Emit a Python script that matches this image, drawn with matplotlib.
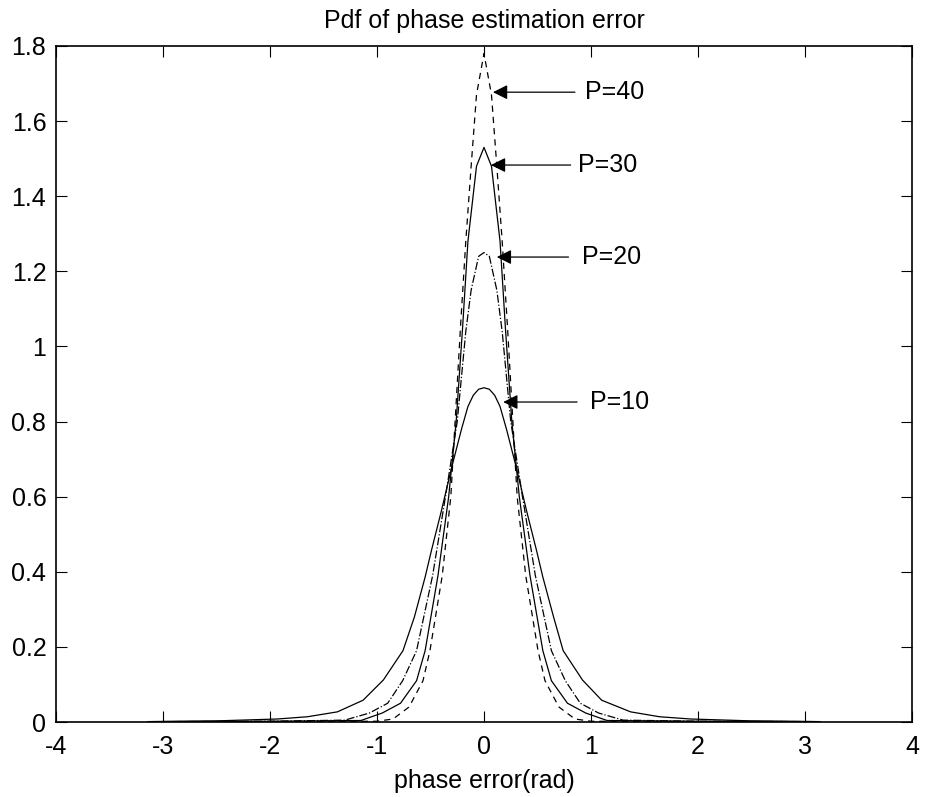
import matplotlib
matplotlib.use("Agg")
import matplotlib.pyplot as plt

plt.rcParams['font.family'] = ['Liberation Sans', 'DejaVu Sans']
plt.rcParams['axes.unicode_minus'] = False

# P=10 curve
x10 = [-3.14, -2.5, -1.93, -1.65, -1.37, -1.13, -0.94, -0.757, -0.65, -0.55, -0.49, -0.4, -0.3, -0.21, -0.15, -0.1, -0.05,
       0.0, 0.05, 0.1, 0.15, 0.21, 0.3, 0.4, 0.49, 0.55, 0.65, 0.74, 0.92, 1.1, 1.37, 1.64, 1.93, 2.5, 3.14]
y10 = [0.001, 0.003, 0.008, 0.014, 0.027, 0.058, 0.112, 0.19, 0.28, 0.386, 0.458, 0.56, 0.68, 0.78, 0.84, 0.87, 0.886,
       0.89, 0.886, 0.87, 0.84, 0.78, 0.68, 0.56, 0.458, 0.386, 0.28, 0.19, 0.112, 0.058, 0.027, 0.014, 0.008, 0.003, 0.001]

# P=20
x20 = [-3.14, -2.0, -1.3, -1.07, -0.9, -0.76, -0.63, -0.48, -0.36, -0.25, -0.17, -0.12, -0.05,
       0.0, 0.05, 0.12, 0.17, 0.25, 0.36, 0.48, 0.63, 0.76, 0.9, 1.07, 1.3, 2.0, 3.14]
y20 = [0.001, 0.002, 0.005, 0.024, 0.05, 0.11, 0.19, 0.39, 0.6, 0.8, 1.04, 1.15, 1.24,
       1.25, 1.24, 1.15, 1.04, 0.8, 0.6, 0.39, 0.19, 0.11, 0.05, 0.024, 0.005, 0.002, 0.001]

# P=30
x30 = [-3.14, -2.0, -1.15, -0.95, -0.78, -0.63, -0.55, -0.43, -0.33, -0.26, -0.2, -0.15, -0.07,
       0.0, 0.07, 0.15, 0.2, 0.26, 0.33, 0.43, 0.55, 0.63, 0.78, 0.95, 1.15, 2.0, 3.14]
y30 = [0.001, 0.002, 0.004, 0.024, 0.05, 0.11, 0.19, 0.39, 0.6, 0.8, 1.05, 1.28, 1.48,
       1.53, 1.48, 1.28, 1.05, 0.8, 0.6, 0.39, 0.19, 0.11, 0.05, 0.024, 0.004, 0.002, 0.001]

# P=40
x40 = [-3.14, -2.0, -1.0, -0.85, -0.7, -0.57, -0.505, -0.39, -0.31, -0.27, -0.22, -0.17, -0.12, -0.07,
       0.0, 0.07, 0.12, 0.17, 0.22, 0.27, 0.31, 0.39, 0.505, 0.57, 0.7, 0.85, 1.0, 2.0, 3.14]
y40 = [0.001, 0.001, 0.002, 0.008, 0.04, 0.11, 0.19, 0.39, 0.6, 0.8, 1.05, 1.28, 1.48, 1.67,
       1.78, 1.67, 1.48, 1.28, 1.05, 0.8, 0.6, 0.39, 0.19, 0.11, 0.04, 0.008, 0.002, 0.001, 0.001]

labels = ["P=10", "P=20", "P=30", "P=40"]
tips = [(0.18, 0.852), (0.12, 1.238), (0.065, 1.483), (0.084, 1.677)]
tails = [(0.87, 0.852), (0.79, 1.238), (0.81, 1.483), (0.85, 1.677)]
text_x = [0.99, 0.92, 0.88, 0.944]

fig = plt.figure(figsize=(9.27, 7.97), dpi=100)
ax = fig.add_axes([0.0604, 0.0941, 0.9234, 0.8482])

ax.plot(x10, y10, color='k', lw=0.9, ls='-')
ax.plot(x20, y20, color='k', lw=0.9, ls='-.')
ax.plot(x30, y30, color='k', lw=0.9, ls='-')
ax.plot(x40, y40, color='k', lw=0.9, ls=(0, (5, 4)))

for lab, tip, tail, tx in zip(labels, tips, tails, text_x):
    ax.annotate('', xy=tip, xytext=tail,
                arrowprops=dict(arrowstyle='-|>', color='k', lw=0.9, mutation_scale=22,
                                shrinkA=0, shrinkB=0))
    ax.text(tx, tail[1], lab, fontsize=18, va='center', ha='left')

ax.set_xlim(-4, 4)
ax.set_ylim(0, 1.8)
ax.set_xticks(range(-4, 5))
ax.set_yticks([0, 0.2, 0.4, 0.6, 0.8, 1, 1.2, 1.4, 1.6, 1.8])
ax.set_yticklabels(['0', '0.2', '0.4', '0.6', '0.8', '1', '1.2', '1.4', '1.6', '1.8'])
ax.tick_params(direction='in', length=8, width=0.8, top=True, right=True, labelsize=18)
ax.tick_params(axis='x', pad=9.5)
ax.tick_params(axis='y', pad=7)
for s in ax.spines.values():
    s.set_linewidth(1.2)

ax.set_title('Pdf of phase estimation error', fontsize=18, pad=13)
ax.set_xlabel('phase error(rad)', fontsize=18, labelpad=7)

fig.savefig('out.png', dpi=100)
